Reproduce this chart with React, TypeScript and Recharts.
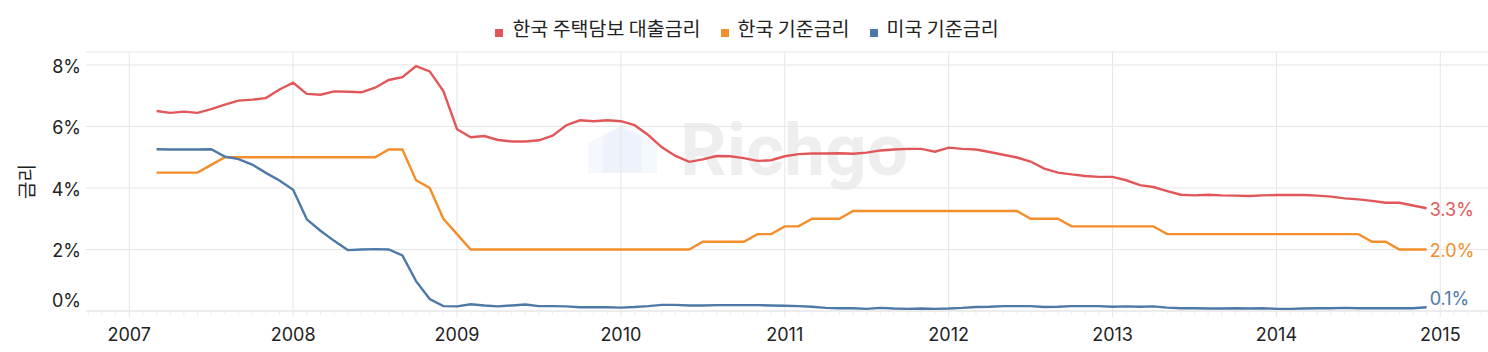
import React from 'react'
import { LineChart, Line, XAxis, YAxis, CartesianGrid, ReferenceLine, LabelList } from 'recharts'

// monthly series, Mar 2007 .. Dec 2014
const START_YEAR = 2007
const START_MONTH = 3

const KR_MORTGAGE = [
  6.50, 6.44, 6.48, 6.44, 6.56, 6.71, 6.84, 6.87, 6.92, 7.20,
  7.42, 7.06, 7.03, 7.14, 7.13, 7.11, 7.26, 7.51, 7.60, 7.96, 7.79, 7.15,
  5.91, 5.65, 5.69, 5.56, 5.51, 5.51, 5.55, 5.70, 6.04, 6.20, 6.17, 6.20,
  6.17, 6.04, 5.72, 5.32, 5.04, 4.85, 4.93, 5.04, 5.03, 4.97, 4.88, 4.90,
  5.03, 5.10, 5.12, 5.12, 5.13, 5.11, 5.15, 5.22, 5.25, 5.27, 5.27, 5.18,
  5.31, 5.27, 5.25, 5.17, 5.08, 4.99, 4.86, 4.63, 4.50, 4.44, 4.39, 4.36,
  4.36, 4.25, 4.09, 4.03, 3.90, 3.78, 3.76, 3.78, 3.76, 3.75, 3.74, 3.76,
  3.77, 3.77, 3.77, 3.75, 3.72, 3.66, 3.63, 3.58, 3.52, 3.52, 3.43, 3.34,
]

const KR_BASE = [
  4.50, 4.50, 4.50, 4.50, 4.75, 5.00, 5.00, 5.00, 5.00, 5.00,
  5.00, 5.00, 5.00, 5.00, 5.00, 5.00, 5.00, 5.25, 5.25, 4.25, 4.00, 3.00,
  2.50, 2.00, 2.00, 2.00, 2.00, 2.00, 2.00, 2.00, 2.00, 2.00, 2.00, 2.00,
  2.00, 2.00, 2.00, 2.00, 2.00, 2.00, 2.25, 2.25, 2.25, 2.25, 2.50, 2.50,
  2.75, 2.75, 3.00, 3.00, 3.00, 3.25, 3.25, 3.25, 3.25, 3.25, 3.25, 3.25,
  3.25, 3.25, 3.25, 3.25, 3.25, 3.25, 3.00, 3.00, 3.00, 2.75, 2.75, 2.75,
  2.75, 2.75, 2.75, 2.75, 2.50, 2.50, 2.50, 2.50, 2.50, 2.50, 2.50, 2.50,
  2.50, 2.50, 2.50, 2.50, 2.50, 2.50, 2.50, 2.25, 2.25, 2.00, 2.00, 2.00,
]

const US_BASE = [
  5.26, 5.25, 5.25, 5.25, 5.26, 5.02, 4.94, 4.76, 4.49, 4.24,
  3.94, 2.98, 2.61, 2.28, 1.98, 2.00, 2.01, 2.00, 1.81, 0.97, 0.39, 0.16,
  0.15, 0.22, 0.18, 0.15, 0.18, 0.21, 0.16, 0.16, 0.15, 0.12, 0.12, 0.12,
  0.11, 0.13, 0.16, 0.20, 0.20, 0.18, 0.18, 0.19, 0.19, 0.19, 0.19, 0.18,
  0.17, 0.16, 0.14, 0.10, 0.09, 0.09, 0.07, 0.10, 0.08, 0.07, 0.08, 0.07,
  0.08, 0.10, 0.13, 0.14, 0.16, 0.16, 0.16, 0.13, 0.14, 0.16, 0.16, 0.16,
  0.14, 0.15, 0.14, 0.15, 0.11, 0.09, 0.09, 0.08, 0.08, 0.09, 0.08, 0.09,
  0.07, 0.07, 0.08, 0.09, 0.09, 0.10, 0.09, 0.09, 0.09, 0.09, 0.09, 0.12,
]

const YEAR_TICKS = [2007, 2008, 2009, 2010, 2011, 2012, 2013, 2014, 2015]
const Y_TICKS = [0, 2, 4, 6, 8]
// monthly minor ticks, Oct 2006 .. Apr 2015
const MONTH_TICKS = Array.from({ length: 103 }, (_, k) => 2006.75 + k / 12)

const SERIES = [
  { key: 'mortgage', name: '한국 주택담보 대출금리', color: '#e15759', labelDy: 7.5 },
  { key: 'krBase', name: '한국 기준금리', color: '#f28e2b', labelDy: 7.3 },
  { key: 'usBase', name: '미국 기준금리', color: '#4e79a7', labelDy: -2.3 },
]

const data = KR_MORTGAGE.map((v, i) => ({
  t: START_YEAR + (START_MONTH - 1 + i) / 12,
  mortgage: v,
  krBase: KR_BASE[i],
  usBase: US_BASE[i],
}))

const NUM_FONT = "Inter, 'Noto Sans CJK KR', sans-serif"
const KR_FONT = "'Noto Sans CJK KR', sans-serif"
const GRID = '#e6e6e6'

function XTick(props: any) {
  const { x, y, payload } = props
  const v = payload.value
  const isYear = Math.abs(v - Math.round(v)) < 1e-6
  if (!isYear) {
    return <line x1={x} x2={x} y1={y} y2={y + 4} stroke="#ececec" />
  }
  return (
    <g>
      <line x1={x} x2={x} y1={y} y2={y + 6} stroke={GRID} />
      <text x={x} y={y + 29.7} textAnchor="middle" fontSize={18} fontFamily={NUM_FONT} fill="#222">
        {Math.round(v)}
      </text>
    </g>
  )
}

function YTick(props: any) {
  const { x, y, payload } = props
  const shift = payload.value === 0 ? -12 : 0
  return (
    <text x={x} y={y + 8 + shift} textAnchor="end" fontSize={18} fontFamily={NUM_FONT} fill="#222">
      {payload.value}%
    </text>
  )
}

const endLabel = (color: string, dy: number) => (props: any) => {
  const { x, y, index, value } = props
  if (index !== data.length - 1) return null
  return (
    <text x={x + 3} y={y + dy} fill={color} fontSize={18} fontFamily={NUM_FONT}>
      {Number(value).toFixed(1)}%
    </text>
  )
}

const yLabel = (props: any) => {
  const vb = props.viewBox || { y: 52, height: 259 }
  const cy = vb.y + vb.height / 2
  return (
    <text
      x={25}
      y={cy}
      transform={`rotate(-90, 25, ${cy})`}
      textAnchor="middle"
      dominantBaseline="central"
      fontSize={19}
      fontFamily={KR_FONT}
      fill="#222"
    >
      금리
    </text>
  )
}

export default function App() {
  return (
    <div style={{ position: 'absolute', left: 0, top: 0, width: 1488, height: 352, background: '#fff' }}>
      <svg style={{ position: 'absolute', left: 0, top: 0 }} width={1488} height={352}>
        <polygon points="588,143 622,125 657,143 657,173 588,173" fill="#f5f8fd" />
        <polygon points="603,137 621,127 642,137 642,173 603,173" fill="#eef3fb" />
        <text x={680} y={175} fontFamily="Roboto, sans-serif" fontWeight={700} fontSize={73} fill="#eeeeee">
          Richgo
        </text>
      </svg>

      <div
        style={{
          position: 'absolute',
          left: 3,
          top: 16,
          width: 1488,
          display: 'flex',
          justifyContent: 'center',
          gap: 20,
          fontFamily: KR_FONT,
          fontSize: 19.5,
          lineHeight: '24px',
          color: '#222',
        }}
      >
        {SERIES.map((s) => (
          <div key={s.key} style={{ display: 'flex', alignItems: 'center' }}>
            <span style={{ width: 8, height: 8, background: s.color, marginRight: 9, marginTop: 10 }} />
            {s.name}
          </div>
        ))}
      </div>

      <LineChart width={1488} height={352} data={data} margin={{ top: 52, right: 0, bottom: 0, left: 0 }}>
        <CartesianGrid vertical={false} stroke={GRID} />
        {YEAR_TICKS.map((yr) => (
          <ReferenceLine key={yr} x={yr} stroke={GRID} />
        ))}
        <XAxis
          dataKey="t"
          type="number"
          domain={[2006.736, 2015.291]}
          ticks={MONTH_TICKS}
          interval={0}
          height={41}
          tickSize={0}
          tickMargin={0}
          tickLine={false}
          axisLine={{ stroke: GRID }}
          tick={(p: any) => <XTick {...p} />}
          allowDataOverflow
        />
        <YAxis
          type="number"
          domain={[0, 8.42]}
          ticks={Y_TICKS}
          width={86}
          tickSize={0}
          tickMargin={5}
          tickLine={false}
          axisLine={false}
          tick={(p: any) => <YTick {...p} />}
          label={yLabel}
          allowDataOverflow
        />
        {SERIES.map((s) => (
          <Line
            key={s.key}
            type="linear"
            dataKey={s.key}
            name={s.name}
            stroke={s.color}
            strokeWidth={2.4}
            dot={false}
            activeDot={false}
            isAnimationActive={false}
          >
            <LabelList dataKey={s.key} content={endLabel(s.color, s.labelDy)} />
          </Line>
        ))}
      </LineChart>
    </div>
  )
}
